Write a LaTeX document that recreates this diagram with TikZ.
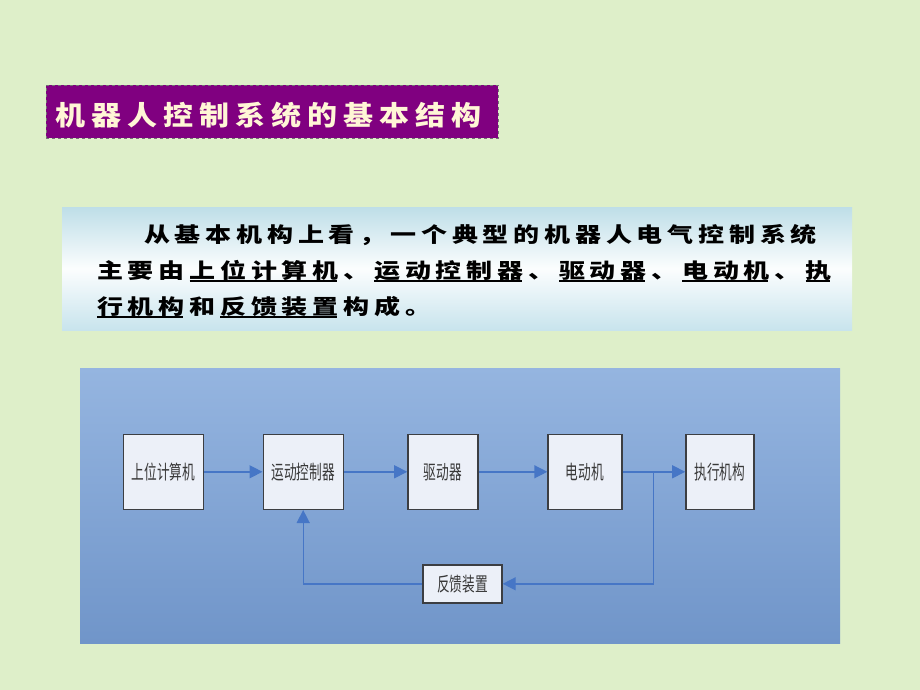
\documentclass[tikz,border=0pt]{standalone}
\usepackage{fontspec}
\usepackage{graphicx}
\usetikzlibrary{arrows.meta}
\newfontfamily\cjk{Noto Sans CJK SC}
\definecolor{bggreen}{RGB}{222,239,201}
\definecolor{titlepurple}{RGB}{128,0,128}
\definecolor{titletext}{RGB}{255,246,214}
\definecolor{diagtop}{RGB}{149,181,224}
\definecolor{diagbot}{RGB}{112,149,201}
\definecolor{boxfill}{RGB}{236,240,248}
\definecolor{boxedge}{RGB}{60,62,66}
\definecolor{arrowblue}{RGB}{70,118,198}
\definecolor{paneltop}{RGB}{190,222,232}
\definecolor{panelbot}{RGB}{200,228,237}
\newdimen\pitch
\def\gridloop#1{\ifx#1\relax\else\hbox to\pitch{#1\hss}\expandafter\gridloop\fi}
\newcommand\grid[1]{\gridloop#1\relax}
\newcommand\ulx[1]{\setbox0\hbox{\gridloop#1\relax}\rlap{\rule[-5pt]{\dimexpr\wd0-\pitch+24pt\relax}{2pt}}\box0}
\newcommand\bodyline[1]{\scalebox{1}[0.8]{\cjk\bfseries\fontsize{26}{30}\selectfont\pitch=30.8pt #1}}
\newcommand\boxtext[1]{\scalebox{0.65}[1]{\cjk\fontsize{19.5}{22}\selectfont #1}}
\tikzset{
  blockbox/.style={draw=boxedge, line width=1.4pt, fill=boxfill, inner sep=0pt,
    text=black!78, align=center},
  flow/.style={draw=arrowblue, line width=1.4pt, -{Triangle[length=13pt,width=13pt]}},
  txt/.style={inner sep=0pt, anchor=base west}
}
\begin{document}
\begin{tikzpicture}[x=1pt,y=-1pt]
\fill[bggreen] (0,0) rectangle (920,690);
\useasboundingbox (0,0) rectangle (920,690);
% title
\node[draw=black!55, dashed, line width=0.8pt, fill=titlepurple, minimum width=452pt, minimum height=53pt, inner sep=0pt] (titlebox) at (272,111.5) {};
\node[txt, text=titletext] (title) at (55,125) {\scalebox{1}[0.9]{\cjk\bfseries\fontsize{30}{34}\selectfont\pitch=36pt \grid{机器人控制系统的基本结构}}};
% text panel
\node[minimum width=790pt, minimum height=123pt, inner sep=0pt, top color=paneltop, bottom color=panelbot, middle color=white!95!paneltop] (panel) at (457,268.5) {};
\node[txt] (l1) at (144,242) {\bodyline{\grid{从基本机构上看，一个典型的机器人电气控制系统}}};
\node[txt] (l2) at (97,278) {\bodyline{\grid{主要由}\ulx{上位计算机}\grid{、}\ulx{运动控制器}\grid{、}\ulx{驱动器}\grid{、}\ulx{电动机}\grid{、}\ulx{执}}};
\node[txt] (l3) at (97,314) {\bodyline{\ulx{行机构}\grid{和}\ulx{反馈装置}\grid{构成。}}};
% diagram panel
\node[minimum width=760pt, minimum height=275pt, inner sep=0pt, top color=diagtop, bottom color=diagbot] (diag) at (460,505.5) {};
\node[blockbox, minimum width=80pt, minimum height=75pt] (A) at (163.5,471.8) {\boxtext{上位计算机}};
\node[blockbox, minimum width=80pt, minimum height=75pt] (B) at (303.2,471.8) {\boxtext{运动控制器}};
\node[blockbox, minimum width=70pt, minimum height=75pt] (C) at (442.9,471.8) {\boxtext{驱动器}};
\node[blockbox, minimum width=74pt, minimum height=75pt] (D) at (585,471.8) {\boxtext{电动机}};
\node[blockbox, minimum width=68pt, minimum height=75pt] (E) at (719.9,471.8) {\boxtext{执行机构}};
\node[blockbox, minimum width=79pt, minimum height=38pt] (F) at (462.5,583.8) {\boxtext{反馈装置}};
\coordinate (J) at (653.5,471.8);
\draw[flow] (A) -- (B);
\draw[flow] (B) -- (C);
\draw[flow] (C) -- (D);
\draw[flow] (D) -- (E);
\draw[flow] (J) |- (F);
\draw[flow] (F) -| (B);
\end{tikzpicture}
\end{document}
